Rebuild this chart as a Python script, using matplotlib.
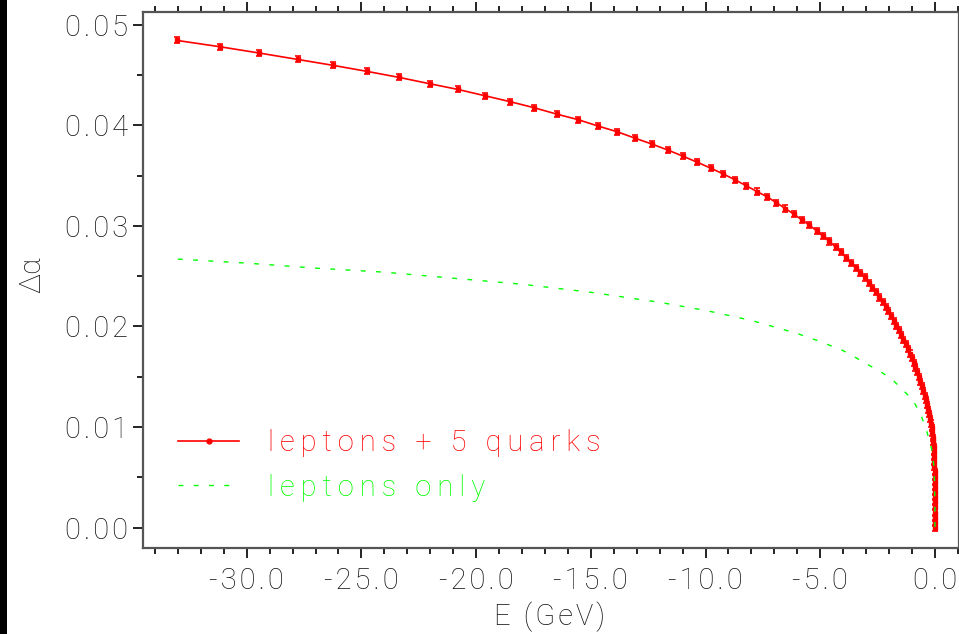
import numpy as np
import matplotlib
matplotlib.use('Agg')
import matplotlib.pyplot as plt
from matplotlib.ticker import MultipleLocator, FuncFormatter
from matplotlib.lines import Line2D
from matplotlib.patches import Rectangle

plt.rcParams['font.family'] = ['Roboto', 'DejaVu Sans']
plt.rcParams['font.weight'] = 'light'
plt.rcParams['lines.scale_dashes'] = False

# leptons + 5 quarks
e_quark = [-33.03, -31.18, -29.45, -27.77, -26.22, -24.74, -23.34, -22.03, -20.79, -19.61,
           -18.51, -17.47, -16.49, -15.55, -14.68, -13.85, -13.08, -12.34, -11.64, -10.99,
           -10.38, -9.78, -9.24, -8.72, -8.22, -7.76, -7.32, -6.91, -6.52, -6.15,
           -5.81, -5.47, -5.16, -4.88, -4.60, -4.33, -4.09, -3.87, -3.65, -3.44,
           -3.26, -3.06, -2.89, -2.74, -2.58, -2.43, -2.28, -2.15, -2.04, -1.92,
           -1.80, -1.69, -1.58, -1.48, -1.38, -1.28, -1.19, -1.10, -1.02, -0.93,
           -0.86, -0.79, -0.71, -0.64, -0.57, -0.51, -0.45, -0.39, -0.34, -0.29,
           -0.25, -0.21, -0.17, -0.14, -0.12, -0.09, -0.074, -0.057, -0.045, -0.035,
           -0.027, -0.020, -0.015, -0.011, -0.008, -0.006, -0.004, -0.003, -0.002, -0.0015,
           -0.001, -0.0006, -0.0003, 0.0]
da_quark = [0.04844, 0.04782, 0.04719, 0.04655, 0.04596, 0.04536, 0.04476, 0.04414, 0.04357, 0.04294,
            0.04235, 0.04175, 0.04112, 0.04056, 0.03993, 0.03936, 0.03873, 0.03814, 0.03754, 0.03694,
            0.03635, 0.03575, 0.03518, 0.03459, 0.03399, 0.03342, 0.03290, 0.03230, 0.03173, 0.03117,
            0.03061, 0.03008, 0.02951, 0.02899, 0.02845, 0.02789, 0.02736, 0.02683, 0.02630, 0.02580,
            0.02531, 0.02487, 0.02434, 0.02384, 0.02338, 0.02288, 0.02242, 0.02195, 0.02149, 0.02103,
            0.02056, 0.02009, 0.01964, 0.01917, 0.01870, 0.01824, 0.01778, 0.01731, 0.01685, 0.01638,
            0.01592, 0.01546, 0.01499, 0.01452, 0.01407, 0.01360, 0.01313, 0.01267, 0.01221, 0.01174,
            0.01128, 0.01081, 0.01035, 0.00989, 0.00942, 0.00895, 0.00850, 0.00803, 0.00750, 0.00700,
            0.00650, 0.00600, 0.00550, 0.00500, 0.00450, 0.00400, 0.00350, 0.00300, 0.00250, 0.00200,
            0.00150, 0.00100, 0.00050, 0.0]
da_err = 0.0003

# leptons only
e_lep = [-33.0, -30.0, -27.0, -24.0, -21.0, -18.0, -15.0, -12.0, -10.0, -8.0,
         -6.0, -5.0, -4.0, -3.45, -2.92, -2.36, -1.85, -1.40, -0.97, -0.65,
         -0.41, -0.23, -0.10, -0.044, -0.015, -0.006, -0.002, -0.0005, 0.0]
da_lep = [0.0267, 0.0263, 0.0258, 0.0254, 0.0248, 0.0242, 0.0234, 0.0224, 0.0216, 0.0206,
          0.0193, 0.0185, 0.0176, 0.0169, 0.0162, 0.0155, 0.0147, 0.0137, 0.0127, 0.0114,
          0.0100, 0.0086, 0.0074, 0.0060, 0.0045, 0.0030, 0.0017, 0.0006, 0.0]

labels = ['leptons + 5 quarks', 'leptons only']
red = '#ff0000'
green = '#00ff00'

def spaced(s, sp='\u2009'):
    # wide letter spacing like the original plotting font
    return sp.join(s)

fig = plt.figure(figsize=(9.59, 6.34), dpi=100)
ax = fig.add_axes([143/959, 1-547.7/634, 1-143/959, (547.7-11.7)/634])

ax.errorbar(e_quark, da_quark, yerr=da_err, color=red, lw=1.2, marker='s', ms=3.5,
            elinewidth=1.2, capsize=2.2, capthick=1.2, zorder=2)
ax.plot(e_lep, da_lep, color=green, lw=1.0, dashes=(3.5, 7.5), zorder=3)

ax.set_xlim(-34.52, 1.05)
ax.set_ylim(-0.002, 0.0513)

ax.xaxis.set_major_locator(MultipleLocator(5))
ax.xaxis.set_minor_locator(MultipleLocator(1))
ax.yaxis.set_major_locator(MultipleLocator(0.01))
ax.yaxis.set_minor_locator(MultipleLocator(0.005))
ax.xaxis.set_major_formatter(FuncFormatter(
    lambda v, p: spaced('%.1f' % v if abs(v) > 1e-9 else '0.0', '\u200a')))
ax.yaxis.set_major_formatter(FuncFormatter(lambda v, p: spaced('%.2f' % v, '\u200a')))

tc = '#151515'
for s in ax.spines.values():
    s.set_color('#555555')
    s.set_linewidth(1.6)
ax.tick_params(which='both', direction='out', top=True, right=False, colors='#222222',
               labelcolor=tc, width=1.4)
ax.tick_params(which='major', length=7, labelsize=21)
ax.tick_params(which='minor', length=4)
ax.tick_params(axis='y', pad=4)
ax.tick_params(axis='x', pad=7)

fig.text(32/959, 1-275/634, 'Δα', rotation=90, ha='center', va='center', fontsize=21, color=tc)
fig.text(550/959, 1-617/634, spaced('E (GeV)', '\u200a'), ha='center', va='center',
         fontsize=21, color=tc)

# legend
handles = [Line2D([], [], color=red, lw=1.2, marker='o', ms=3.5),
           Line2D([], [], color=green, lw=1.0, dashes=(3.5, 7.5))]
leg = ax.legend(handles, [spaced(l) for l in labels], loc='center left',
                bbox_to_anchor=(35/815, (547.7-465.5)/536),
                frameon=False, fontsize=21, handlelength=2.1, handletextpad=1.0,
                labelspacing=0.55, numpoints=1, labelcolor='linecolor',
                borderpad=0, borderaxespad=0)

# black strip on the left edge
fig.patches.append(Rectangle((0, 0), 7/959, 1, transform=fig.transFigure,
                             facecolor='black', edgecolor='none'))

fig.savefig('out.png', dpi=100)
